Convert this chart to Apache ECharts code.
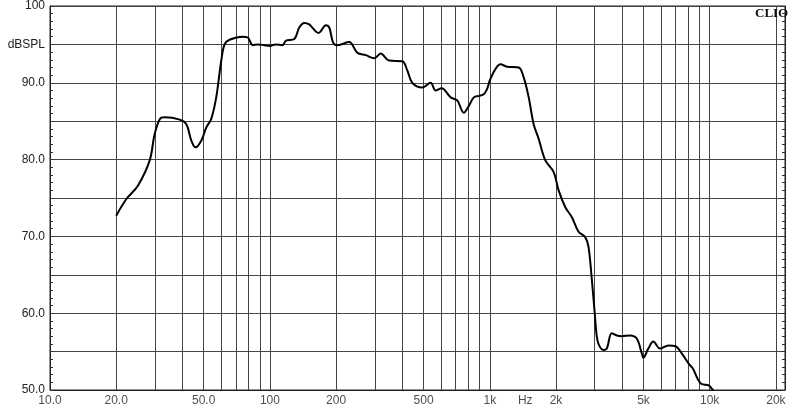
<!DOCTYPE html>
<html>
<head>
<meta charset="utf-8">
<script src="https://cdn.jsdelivr.net/npm/echarts@6/dist/echarts.min.js"></script>
<style>html,body{margin:0;padding:0;background:#fff}#c{width:800px;height:411px}</style>
</head>
<body>
<div id="c"></div>
<script>
const freqHz = [20,22.3,25.1,28.4,29.9,31.6,33.2,38.9,41.7,43.9,45.9,48.8,51.4,54.1,57.0,60.1,62.2,65.5,75.3,79.3,83.6,88.1,94.4,100,106,114,118.4,129,136,143.4,151,166.5,179.8,186.2,194,203,229.4,250,273,298,319,348,400,421.7,444,493,538,567,604,663.5,711,762,803,846,891.7,939,972,1000,1061,1118,1198,1354,1426,1503,1583,1668,1789,1950,2056,2205,2362,2533,2716,2812,2912,3000,3050,3120,3289,3403,3586,3780,3981,4346,4659,4907,4990,5260,5542,5943,6487,7000,7450,7990,8380,8870,9160,9900,10200,10400];
const splDb = [72.7,74.9,76.6,79.9,83.3,85.3,85.5,85.2,84.6,82.5,81.6,82.5,84.2,85.3,88.1,92.9,95.0,95.6,96.0,95.9,94.9,95.0,94.9,94.8,95.0,94.9,95.5,95.7,97.2,97.8,97.6,96.5,97.5,97.2,95.2,94.9,95.3,93.9,93.6,93.2,93.8,92.9,92.8,91.6,90.0,89.4,90.0,89.0,89.3,88.1,87.7,86.1,87.0,88.1,88.3,88.5,89.2,90.3,91.8,92.4,92.1,92.0,90.7,88.1,84.6,82.7,79.9,78.4,76.0,73.8,72.5,70.6,69.9,68.6,64.3,60.0,57.5,56.0,55.2,55.4,57.4,57.1,57.0,57.1,56.7,54.8,54.2,55.4,56.3,55.4,55.8,55.7,54.8,53.5,52.8,51.3,50.8,50.6,50.2,50.0];
const gridFreqs = [20,30,40,50,60,70,80,90,100,200,300,400,500,600,700,800,900,1000,2000,3000,4000,5000,6000,7000,8000,9000,10000,20000];
const xTickValues = [10,20,50,100,200,500,1000,1450,2000,5000,10000,20000];
const xTickLabels = ['10.0','20.0','50.0','100','200','500','1k','Hz','2k','5k','10k','20k'];
const yTickLabels = {100:'100',95:'dBSPL',90:'90.0',80:'80.0',70:'70.0',60:'60.0',50:'50.0'};

const chart = echarts.init(document.getElementById('c'), null, {renderer:'canvas'});
const gridColor = '#444';
const font = 'Liberation Sans, Arial, sans-serif';
chart.setOption({
  animation:false,
  backgroundColor:'#fff',
  title:{text:'CLIO', left:750, top:2, textStyle:{fontFamily:'Liberation Serif, DejaVu Serif, serif', fontWeight:'bold', fontSize:13, color:'#111'}},
  grid:{left:50, right:15, top:5, bottom:21, show:true, borderColor:'#222', borderWidth:1, backgroundColor:'transparent'},
  xAxis:{type:'log', logBase:10, min:10, max:22000,
    axisLine:{show:true, lineStyle:{color:'#222', width:1}},
    axisTick:{show:false}, axisLabel:{show:false}, splitLine:{show:false}, minorTick:{show:false}},
  yAxis:[{type:'value', min:50, max:100, interval:5, position:'left',
    axisLine:{show:true, lineStyle:{color:'#222'}},
    axisTick:{show:true, inside:true, length:4, lineStyle:{color:'#333'}},
    minorTick:{show:true, splitNumber:5, length:3, lineStyle:{color:'#333'}},
    splitLine:{show:true, lineStyle:{color:gridColor, width:1}},
    axisLabel:{margin:5, fontFamily:font, fontSize:12, color:'#222', formatter:v=>yTickLabels[v]||''}},
   {type:'value', min:50, max:100, interval:5, position:'right',
    axisLine:{show:true, lineStyle:{color:'#222'}},
    axisTick:{show:true, inside:true, length:4, lineStyle:{color:'#333'}},
    minorTick:{show:true, splitNumber:5, length:3, lineStyle:{color:'#333'}},
    splitLine:{show:false}, axisLabel:{show:false}}],
  series:[
    {type:'line', data:freqHz.map((f,i)=>[f,splDb[i]]), symbol:'none', smooth:0.35,
     lineStyle:{color:'#000', width:2}, z:5,
     markLine:{silent:true, symbol:'none', label:{show:false},
       lineStyle:{color:gridColor, width:1, type:'solid'},
       data:gridFreqs.map(f=>({xAxis:f}))}},
    {type:'scatter', data:xTickValues.map((f,i)=>[f,50,xTickLabels[i]]), symbolSize:0, clip:false, silent:true,
     label:{show:true, position:'bottom', distance:5, fontFamily:font, fontSize:12, color:'#222', formatter:p=>p.data[2]}}
  ]
});
</script>
</body>
</html>
